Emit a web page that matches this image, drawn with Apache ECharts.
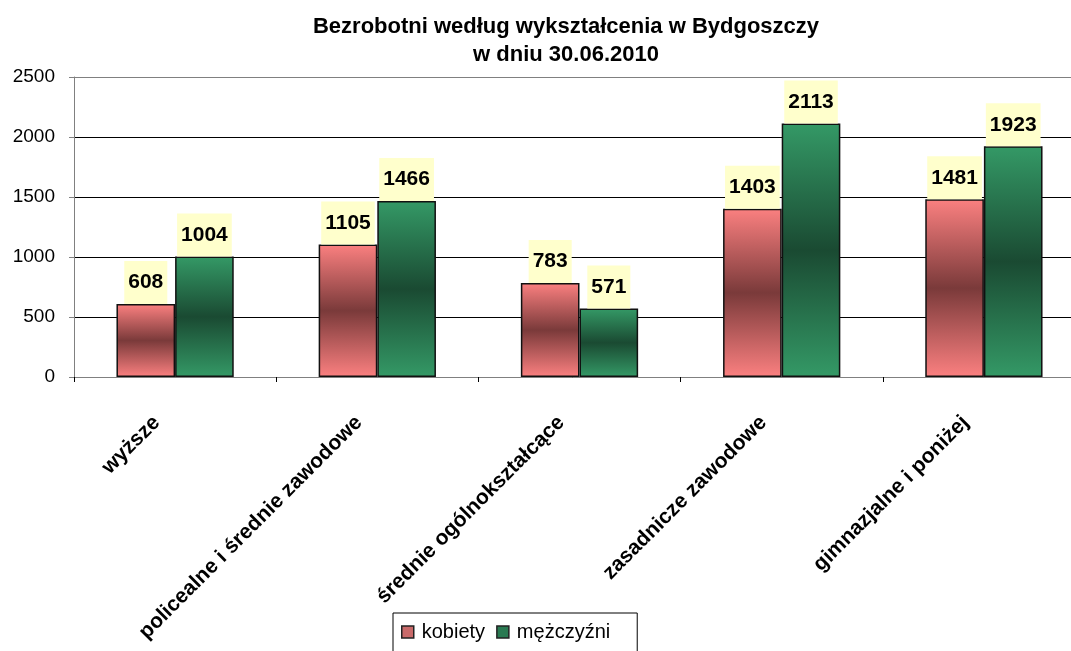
<!DOCTYPE html>
<html>
<head>
<meta charset="utf-8">
<script src="https://cdn.jsdelivr.net/npm/echarts@6/dist/echarts.min.js"></script>
<style>
  html, body { margin: 0; padding: 0; background: #fff; }
  #chart { width: 1071px; height: 651px; }
</style>
</head>
<body>
<div id="chart"></div>
<script>
// dane z wykresu
var categories = ['wyższe', 'policealne i średnie zawodowe', 'średnie ogólnokształcące', 'zasadnicze zawodowe', 'gimnazjalne i poniżej'];
var kobiety = [608, 1105, 783, 1403, 1481];
var mezczyzni = [1004, 1466, 571, 2113, 1923];
var seriesNames = ['kobiety', 'mężczyźni'];
var yTicks = [0, 500, 1000, 1500, 2000, 2500];

var FONT = 'Liberation Sans, Arial, sans-serif';

// gradient: jasny na brzegach, ciemny w srodku
function bandGradient(edge, mid) {
    return new echarts.graphic.LinearGradient(0, 0, 0, 1, [
        { offset: 0, color: edge },
        { offset: 0.5, color: mid },
        { offset: 1, color: edge }
    ]);
}

var labelStyle = {
    show: true,
    position: 'top',
    distance: 0,
    color: '#000',
    fontFamily: FONT,
    fontWeight: 'bold',
    fontSize: 21,
    backgroundColor: '#ffffcc',
    padding: [11, 4, 11, 4]
};

var myChart = echarts.init(document.getElementById('chart'));
var option = {
    animation: false,
    title: {
        text: 'Bezrobotni według wykształcenia w Bydgoszczy\nw dniu 30.06.2010',
        left: 561,
        textAlign: 'center',
        top: 8,
        textStyle: {
            fontFamily: FONT,
            fontWeight: 'bold',
            fontSize: 22,
            lineHeight: 28,
            color: '#000'
        }
    },
    legend: {
        left: 393,
        top: 613,
        padding: [9, 27, 14, 8],
        itemGap: 11,
        itemWidth: 12,
        itemHeight: 12,
        borderColor: '#000',
        borderWidth: 1,
        textStyle: { fontFamily: FONT, fontSize: 20, color: '#000', padding: [0, 0, 0, 3] },
        data: [
            { name: seriesNames[0], icon: 'rect', itemStyle: { color: '#c96a6a', borderColor: '#222', borderWidth: 1.5 } },
            { name: seriesNames[1], icon: 'rect', itemStyle: { color: '#2a7a52', borderColor: '#222', borderWidth: 1.5 } }
        ]
    },
    grid: {
        left: 74,
        top: 77,
        width: 1011,
        height: 300,
        outerBoundsMode: 'none',
        containLabel: false
    },
    xAxis: {
        type: 'category',
        data: categories,
        axisLine: { lineStyle: { color: '#808080', width: 1 } },
        axisTick: { show: true, length: 5, lineStyle: { color: '#000' } },
        axisLabel: {
            rotate: 45,
            interval: 0,
            margin: 24,
            padding: [0, 26, 0, 0],
            color: '#000',
            fontFamily: FONT,
            fontWeight: 'bold',
            fontSize: 21
        }
    },
    yAxis: {
        type: 'value',
        min: yTicks[0],
        max: yTicks[yTicks.length - 1],
        interval: 500,
        axisLine: { show: true, lineStyle: { color: '#808080', width: 1 } },
        axisTick: { show: true, length: 5, lineStyle: { color: '#808080' } },
        axisLabel: {
            margin: 19,
            color: '#000',
            fontFamily: FONT,
            fontSize: 19,
            formatter: function (v) { return String(v); }
        },
        splitLine: {
            lineStyle: { color: ['#000', '#000', '#000', '#000', '#000', '#808080'], width: 1 }
        }
    },
    series: [
        {
            name: seriesNames[0],
            type: 'bar',
            data: kobiety,
            barGap: '0%',
            barCategoryGap: '42%',
            itemStyle: {
                color: bandGradient('#fb8080', '#7a3a3a'),
                borderColor: '#111',
                borderWidth: 1.5
            },
            label: labelStyle
        },
        {
            name: seriesNames[1],
            type: 'bar',
            data: mezczyzni,
            barGap: '0%',
            barCategoryGap: '42%',
            itemStyle: {
                color: bandGradient('#349966', '#1a4a32'),
                borderColor: '#111',
                borderWidth: 1.5
            },
            label: labelStyle
        }
    ]
};
myChart.setOption(option);
</script>
</body>
</html>
